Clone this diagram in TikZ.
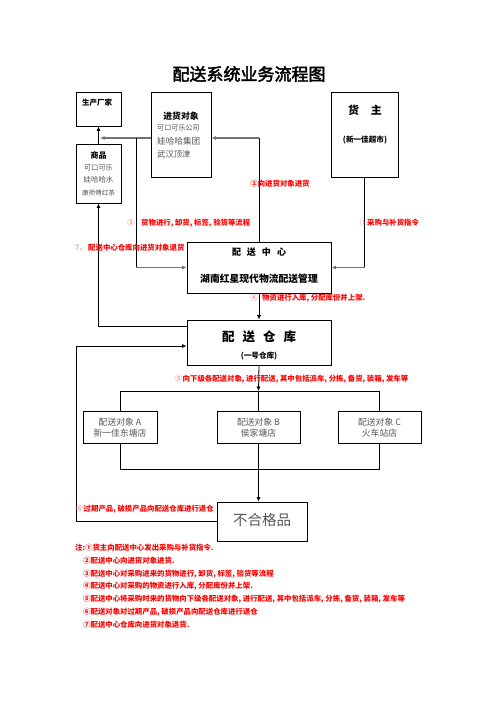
\documentclass[tikz,border=0pt]{standalone}
\usepackage{fontspec}
\setmainfont{Noto Sans CJK SC}
\newfontfamily\titlefont[FakeBold=2.5]{Noto Sans CJK SC}
\usetikzlibrary{arrows.meta}
\definecolor{lred}{RGB}{255,0,0}
\definecolor{lpink}{RGB}{255,100,100}
\definecolor{gtext}{RGB}{85,85,85}
\definecolor{gline}{RGB}{115,115,115}
\tikzset{
  box/.style={draw=black, line width=0.9pt, inner sep=0pt},
  conn/.style={line width=0.8pt, draw=black},
  gconn/.style={line width=1.4pt, draw=gline},
  tip/.style={-{Latex[length=4.5pt,width=4pt]}},
  lbl/.style={font=\fontsize{7.4}{8}\selectfont\bfseries, text=lred, inner sep=0pt},
  pk/.style={font=\fontsize{7.4}{8}\selectfont, text=lpink, inner sep=0pt},
  note/.style={lbl, anchor=west},
  bt/.style={font=\fontsize{#1}{#1}\selectfont\bfseries, text=black, inner sep=0pt},
  gt/.style={font=\fontsize{#1}{#1}\selectfont, text=gtext, inner sep=0pt},
}
\begin{document}
\begin{tikzpicture}[x=1pt,y=-1pt]
\useasboundingbox (0,0) rectangle (496,702);
\fill[white] (0,0) rectangle (496,702);

% title
\node[font=\fontsize{17}{17}\selectfont\titlefont, inner sep=0pt] (title) at (249,74) {配送系统业务流程图};

% boxes
\node[box, minimum width=45pt, minimum height=34pt] (factory) at (98.5,109) {};
\node[box, minimum width=45pt, minimum height=59pt] (goods) at (98.5,173.5) {};
\node[box, minimum width=60pt, minimum height=85pt] (supplier) at (181,134.5) {};
\node[box, minimum width=67pt, minimum height=85pt] (owner) at (364.5,134.5) {};
\node[box, minimum width=144pt, minimum height=51pt] (center) at (259,267.5) {};
\node[box, minimum width=144pt, minimum height=45pt] (warehouse) at (259,342.5) {};
\node[box, minimum width=74pt, minimum height=32pt] (objA) at (120,427) {};
\node[box, minimum width=83pt, minimum height=32pt] (objB) at (258.5,427) {};
\node[box, minimum width=83pt, minimum height=32pt] (objC) at (379.5,427) {};
\node[box, minimum width=90pt, minimum height=39pt] (reject) at (262,521.5) {};

% box texts
\node[bt=7.5] (tfactory) at (97,103) {生产厂家};
\node[bt=8] (tgoods) at (98.5,155) {商品};
\node[gt=7.2] (tg1) at (98.5,167.5) {可口可乐};
\node[gt=7.4] (tg2) at (98.5,180) {娃哈哈水};
\node[gt=6.6] (tg3) at (98.5,193) {康师傅红茶};
\node[bt=8.8] (tsup) at (181,116) {进货对象};
\node[gt=7.1, anchor=west] (ts1) at (157,128) {可口可乐公司};
\node[gt=8.6, anchor=west] (ts2) at (157,141) {娃哈哈集团};
\node[gt=8.3, anchor=west] (ts3) at (157,154) {武汉顶津};
\node[bt=11] (towner) at (365,110) {货\hspace{12pt}主};
\node[bt=7.6] (towner2) at (365,140) {(新一佳超市)};
\node[bt=9] (tcenter) at (259,252) {配\hspace{6pt}送\hspace{6pt}中\hspace{6pt}心};
\node[bt=9.8] (tcenter2) at (259,278.5) {湖南红星现代物流配送管理};
\node[bt=12.5] (twh) at (259,337) {配\hspace{8pt}送\hspace{8pt}仓\hspace{8pt}库};
\node[bt=7.6] (twh2) at (259,356) {(一号仓库)};
\node[gt=8.8] (tA1) at (120,422) {配送对象 A};
\node[gt=8.8] (tA2) at (120,433.5) {新一佳东塘店};
\node[gt=8.8] (tB1) at (258.5,422) {配送对象 B};
\node[gt=8.8] (tB2) at (258.5,433.5) {侯家塘店};
\node[gt=8.8] (tC1) at (379.5,422) {配送对象 C};
\node[gt=8.8] (tC2) at (379.5,433.5) {火车站店};
\node[gt=14.5] (trej) at (262,520) {不合格品};

% connector 1: owner -> center
\coordinate (j1) at (owner.south |- center.east);
\draw[conn] (owner.south) -- (j1);
\draw[gconn, tip] (j1) -- (center.east);

% connector 2: center -> supplier
\coordinate (j2) at (259,138);
\draw[conn] (center.north) -- (j2);
\draw[gconn, tip] (j2) -- (j2 -| supplier.east);

% connector 3: supplier -> center and -> factory line
\coordinate (j3) at (136,138);
\coordinate (j3t) at (100,138);
\draw[gconn, tip] (j3 -| supplier.west) -- (j3t);
\coordinate (j3b) at (j3 |- center.west);
\draw[conn] (j3) -- (j3b);
\draw[gconn, tip] (j3b) -- (center.west);

% goods -> factory
\draw[conn, tip] (goods.north) -- (factory.south);

% connector 4
\draw[conn, tip] (center.south) -- (warehouse.north);

% connector 5 and bus
\coordinate (bus) at (258.5,391);
\draw[conn, tip] (warehouse.south) -- (bus);
\draw[conn] (objA.north) -- (objA.north |- bus) -- (objC.north |- bus) -- (objC.north);
\draw[conn] (objB.north) -- (bus);

% lower bus
\coordinate (lbus) at (258.5,469);
\draw[conn] (objA.south) -- (objA.south |- lbus) -- (objC.south |- lbus) -- (objC.south);
\draw[conn] (objB.south) -- (lbus);
\draw[conn, tip] (lbus) -- (lbus |- reject.north);

% connector 6
\coordinate (j6) at (76,346);
\draw[conn, tip] (reject.west) -| (j6) -- (j6 -| warehouse.west);

% connector 7
\coordinate (j7) at (98.5,326);
\draw[conn, tip] (j7 -| warehouse.west) -- (j7) -- (goods.south);

% labels
\node[lbl] (l2) at (280,184) {②向进货对象进货};
\node[pk] (l3n) at (131,223) {③};
\node[lbl, anchor=west] (l3) at (141,223) {货物进行, 卸货, 标签, 验货等流程};
\node[pk, anchor=west] (l1n) at (360,223) {①};
\node[lbl, anchor=west] (l1) at (367,223) {采购与补货指令};
\node[pk, anchor=west] (l7n) at (75,248) {7、};
\node[lbl, anchor=west] (l7) at (88,248) {配送中心仓库向进货对象退货};
\node[pk] (l4n) at (254,298) {④};
\node[lbl, anchor=west] (l4) at (262,298) {物资进行入库, 分配库份并上架.};
\node[pk, anchor=west] (l5n) at (175,379) {⑤};
\node[lbl, anchor=west] (l5) at (182.5,379) {向下级各配送对象, 进行配送, 其中包括派车, 分拣, 备货, 装箱, 发车等};
\node[pk, anchor=west] (l6n) at (76,509) {⑥};
\node[lbl, anchor=west] (l6) at (83.5,509) {过期产品, 破损产品向配送仓库进行退仓};

% notes
\node[note] (n1) at (75,548) {注:①货主向配送中心发出采购与补货指令.};
\node[note] (n2) at (83,561) {②配送中心向进货对象进货.};
\node[note] (n3) at (83,574) {③配送中心对采购进来的货物进行, 卸货, 标签, 验货等流程};
\node[note] (n4) at (83,586.5) {④配送中心对采购的物资进行入库, 分配库份并上架.};
\node[note] (n5) at (83,599) {⑤配送中心将采购时来的货物向下级各配送对象, 进行配送, 其中包括派车, 分拣, 备货, 装箱, 发车等};
\node[note] (n6) at (83,612) {⑥配送对象对过期产品, 破损产品向配送仓库进行退仓};
\node[note] (n7) at (83,625) {⑦配送中心仓库向进货对象退货.};
\end{tikzpicture}
\end{document}
